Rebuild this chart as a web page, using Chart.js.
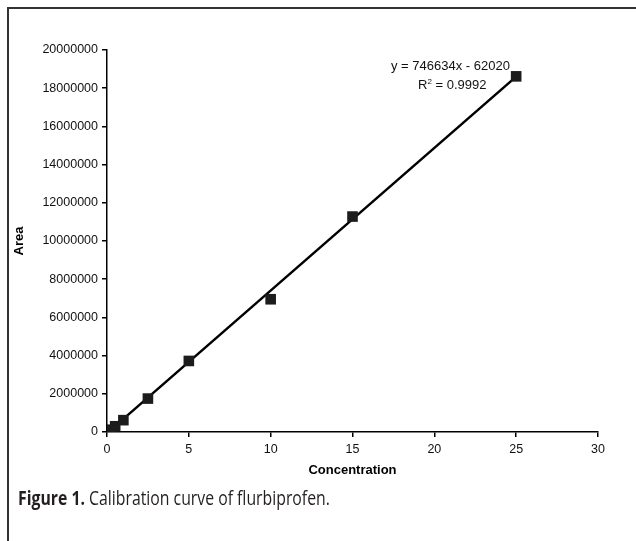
<!DOCTYPE html>
<html>
<head>
<meta charset="utf-8">
<script src="https://cdn.jsdelivr.net/npm/chart.js@4.4.1/dist/chart.umd.min.js"></script>
<style>
  html, body { margin: 0; padding: 0; background: #fff; }
  #wrap { position: relative; width: 636px; height: 541px; overflow: hidden; background: #fff; }
  #frameTop { position: absolute; left: 7px; top: 7px; width: 640px; height: 0; border-top: 2px solid #333; }
  #frameLeft { position: absolute; left: 7px; top: 7px; width: 0; height: 560px; border-left: 2px solid #333; }
  #chartBox { position: absolute; left: 0; top: 0; width: 636px; height: 541px; }
  .eq { position: absolute; font-family: "Liberation Sans", Arial, sans-serif; font-size: 13px; color: #111; white-space: nowrap; }
  #caption { position: absolute; left: 18px; top: 484px; font-family: "Open Sans", sans-serif; font-size: 20px; color: #231f20; white-space: nowrap; transform: scaleX(0.79); transform-origin: 0 0; }
  #caption b { font-weight: bold; }
</style>
</head>
<body>
<div id="wrap">
  <div id="chartBox"><canvas id="c" width="636" height="541"></canvas></div>
  <div id="frameTop"></div>
  <div id="frameLeft"></div>
  <div class="eq" style="left:391px; top:58px;">y = 746634x - 62020</div>
  <div class="eq" style="left:418px; top:77px;">R<sup style="font-size:8px; vertical-align:5px;">2</sup> = 0.9992</div>
  <div id="caption"><b>Figure 1.</b> Calibration curve of flurbiprofen.</div>
</div>
<script>
// Calibration standards: concentration vs. peak area
const concentrations = [0.25, 0.5, 1, 2.5, 5, 10, 15, 25];
const areas = [120000, 300000, 620000, 1750000, 3720000, 6950000, 11280000, 18620000];

// Linear fit reported on the chart
const slope = 746634;
const intercept = -62020;
const fitRange = [0.25, 25];

const xTicks = [0, 5, 10, 15, 20, 25, 30];
const yTicks = [0, 2000000, 4000000, 6000000, 8000000, 10000000, 12000000, 14000000, 16000000, 18000000, 20000000];

const points = concentrations.map((x, i) => ({ x: x, y: areas[i] }));
const fitLine = fitRange.map(x => ({ x: x, y: slope * x + intercept }));

const tickFont = { family: '"Liberation Sans", Arial, sans-serif', size: 12.5 };
const titleFont = { family: '"Liberation Sans", Arial, sans-serif', size: 13, weight: 'bold' };

new Chart(document.getElementById('c'), {
  type: 'scatter',
  data: {
    datasets: [
      {
        label: 'Fit',
        data: fitLine,
        showLine: true,
        borderColor: '#000',
        borderWidth: 2.5,
        pointRadius: 0,
        fill: false,
        order: 2
      },
      {
        label: 'Standards',
        data: points,
        pointStyle: 'rect',
        pointRadius: 7.5,
        pointBackgroundColor: '#1c1c1c',
        pointBorderColor: '#1c1c1c',
        pointBorderWidth: 0,
        order: 1
      }
    ]
  },
  options: {
    responsive: false,
    animation: false,
    layout: { padding: { left: 12, top: 50, right: 38, bottom: 63 } },
    plugins: { legend: { display: false }, tooltip: { enabled: false } },
    scales: {
      x: {
        type: 'linear',
        min: 0, max: 30,
        afterBuildTicks: s => { s.ticks = xTicks.map(v => ({ value: v })); },
        afterFit: s => { s.height = 46; },
        border: { color: '#000', width: 1.5 },
        grid: { drawOnChartArea: false, color: '#000', tickLength: 5, lineWidth: 1.5 },
        ticks: { color: '#111', font: tickFont, padding: 5, maxRotation: 0 },
        title: { display: true, text: 'Concentration', color: '#000', font: titleFont, padding: { top: 2, bottom: 0 } }
      },
      y: {
        type: 'linear',
        min: 0, max: 20000000,
        afterBuildTicks: s => { s.ticks = yTicks.map(v => ({ value: v })); },
        afterFit: s => { s.width = 95; },
        border: { color: '#000', width: 1.5 },
        grid: { drawOnChartArea: false, color: '#000', tickLength: 5, lineWidth: 1.5 },
        ticks: { color: '#111', font: tickFont, padding: 4, callback: v => String(v) },
        title: { display: true, text: 'Area', color: '#000', font: titleFont, padding: 0 }
      }
    }
  }
});
</script>
</body>
</html>
